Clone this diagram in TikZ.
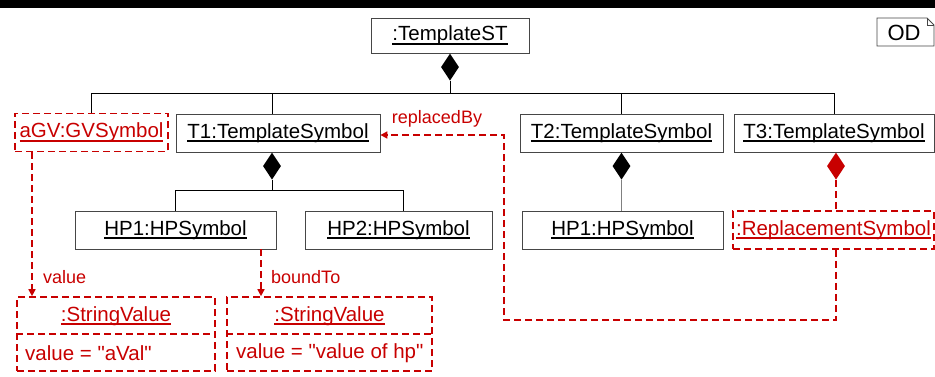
\documentclass[tikz,border=0pt]{standalone}
\usepackage{fontspec}
\setmainfont{Liberation Sans}[Ligatures=TeXOff]
\usetikzlibrary{arrows.meta,shapes.geometric}
\definecolor{ured}{RGB}{200,0,0}
\definecolor{uedge}{RGB}{70,70,70}
\newcommand\myul[1]{\setbox0\hbox{#1}\rlap{\vrule width\wd0 height -2pt depth 3.8pt}\box0}
\begin{document}
\begin{tikzpicture}[x=1pt,y=-1pt,
  obj/.style={draw=uedge, line width=0.8pt, fill=white, minimum height=38pt, inner sep=0pt, font=\fontsize{20.5}{24}\selectfont},
  robj/.style={obj, draw=ured, line width=1.6pt, dash pattern=on 7pt off 4pt, text=ured},
  dmd/.style={diamond, fill=black, inner sep=0pt, minimum width=18pt, minimum height=27pt, anchor=north},
  conn/.style={draw=black, line width=1pt},
  rline/.style={draw=ured, line width=1.6pt, dash pattern=on 7pt off 4pt},
  rarrow/.style={rline, -{Triangle[width=7pt,length=7pt]}},
  lbl/.style={text=ured, font=\fontsize{18}{20}\selectfont, inner sep=0pt},
  txt/.style={font=\fontsize{20.5}{24}\selectfont, inner sep=0pt}]
\useasboundingbox (0,0) rectangle (935,377);
\fill[black] (0,0) rectangle (935,8);
% OD frame
\draw[uedge, line width=0.8pt, fill=white] (877,18) -- (927,18) -- (934,25) -- (934,46) -- (877,46) -- cycle;
\draw[uedge, line width=0.6pt] (927,18) -- (927,25) -- (934,25);
\node[txt, font=\fontsize{22}{24}\selectfont] (od) at (904,33) {OD};
% objects
\node[obj, minimum width=158pt, minimum height=35pt] (ts) at (450,35.5) {\myul{:TemplateST}};
\node[robj, minimum width=153pt] (agv) at (91.5,132.5) {\myul{aGV:GVSymbol}};
\node[obj, minimum width=204pt] (t1) at (278,133) {\myul{T1:TemplateSymbol}};
\node[obj, minimum width=203pt] (t2) at (621.5,133) {\myul{T2:TemplateSymbol}};
\node[obj, minimum width=200pt] (t3) at (834,133) {\myul{T3:TemplateSymbol}};
\node[obj, minimum width=201pt] (hp1) at (175.5,230) {\myul{HP1:HPSymbol}};
\node[obj, minimum width=187pt] (hp2) at (398.5,230) {\myul{HP2:HPSymbol}};
\node[obj, minimum width=201pt] (hp3) at (622.5,230) {\myul{HP1:HPSymbol}};
\node[robj, minimum width=201pt] (rs) at (833.5,230) {\myul{:ReplacementSymbol}};
\node[robj, minimum width=198pt, minimum height=74pt] (sv1) at (116,334) {};
\draw[rline] (sv1.west) -- (sv1.east);
\node[txt, text=ured] (sv1n) at (116,316) {\myul{:StringValue}};
\node[txt, text=ured, anchor=west] (sv1v) at (25,353) {value = "aVal"};
\node[robj, minimum width=205pt, minimum height=74pt] (sv2) at (329.5,334) {};
\draw[rline] (sv2.west) -- (sv2.east);
\node[txt, text=ured] (sv2n) at (329.5,316) {\myul{:StringValue}};
\node[txt, text=ured, anchor=west] (sv2v) at (236,353) {value = "value of hp"};
% composition from TemplateST
\node[dmd] (d0) at (ts.south) {};
\coordinate (bus) at (0,94);
\draw[conn] (d0.south) -- (d0.south |- bus);
\draw[conn] (agv.north) -- (agv.north |- bus) -- (t3.north |- bus) -- (t3.north);
\draw[conn] ([xshift=-6pt]t1.north) -- ([xshift=-6pt]t1.north |- bus);
\draw[conn] (t2.north) -- (t2.north |- bus);
% composition from T1
\node[dmd] (d1) at ([xshift=-6pt]t1.south) {};
\coordinate (bus1) at (0,191);
\draw[conn] (d1.south) -- (d1.south |- bus1);
\draw[conn] (hp1.north) -- (hp1.north |- bus1) -- ([xshift=4.5pt]hp2.north |- bus1) -- ([xshift=4.5pt]hp2.north);
% composition from T2
\node[dmd] (d2) at (t2.south) {};
\draw[draw=gray, line width=1pt] (d2.south) -- (d2.south |- hp3.north);
% composition from T3 (red)
\node[dmd, fill=ured] (d3) at ([xshift=2pt]t3.south) {};
\draw[rline] (d3.south) -- (d3.south |- rs.north);
% replacedBy
\coordinate (rb) at (504,320);
\draw[rarrow] ([xshift=2.5pt]rs.south) |- (rb) |- ([yshift=-2pt]t1.east);
\node[lbl] (lrb) at (437,119) {replacedBy};
% value
\draw[rarrow] ([xshift=-59.5pt]agv.south) -- ([xshift=-84pt]sv1.north);
\node[lbl, anchor=west] (lv) at (43,277) {value};
% boundTo
\draw[rarrow] ([xshift=85.5pt]hp1.south) -- ([xshift=-68.5pt]sv2.north);
\node[lbl, anchor=west] (lb) at (271,277) {boundTo};
\end{tikzpicture}
\end{document}
